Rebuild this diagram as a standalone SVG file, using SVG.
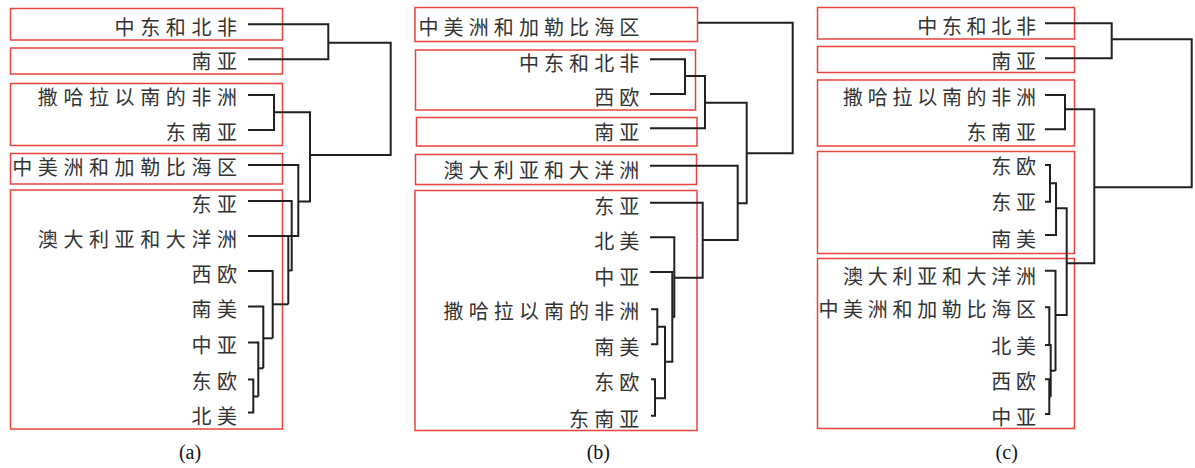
<svg xmlns="http://www.w3.org/2000/svg" width="1195" height="468" viewBox="0 0 1195 468">
<style>
.bg{fill:#ffffff}
.box{fill:none;stroke:#e8433c;stroke-width:1.5}
.lbl{font-family:"Noto Sans CJK SC","Noto Sans CJK JP",sans-serif;font-size:20px;fill:#333333;text-anchor:end}
.pa{letter-spacing:5.6px}
.pb{letter-spacing:5.1px}
.pc{letter-spacing:4.7px}
.cap{font-family:"Liberation Serif","Times New Roman",serif;font-size:20px;fill:#111111;text-anchor:middle}
.con{fill:none;stroke:#231f20;stroke-width:2;stroke-linejoin:miter;stroke-linecap:butt}
</style>
<rect class="bg" x="0" y="0" width="1195" height="468"/>

<!-- Panel (a) -->
<g id="a-n1"><rect class="box" x="10.5" y="8.5" width="272" height="31.5"/><text class="lbl pa" x="242.6" y="34.5">中东和北非</text></g>
<g id="a-n2"><rect class="box" x="10.5" y="48" width="272" height="26"/><text class="lbl pa" x="242.6" y="69.3">南亚</text></g>
<g id="a-n3"><rect class="box" x="10.5" y="83.5" width="272" height="62"/><text class="lbl pa" x="242.6" y="105.3">撒哈拉以南的非洲</text><text class="lbl pa" x="242.6" y="140.4">东南亚</text></g>
<g id="a-n4"><rect class="box" x="10.5" y="153.5" width="272" height="30.5"/><text class="lbl pa" x="242.6" y="175.4">中美洲和加勒比海区</text></g>
<g id="a-n5"><rect class="box" x="10.5" y="190" width="272" height="239"/>
<text class="lbl pa" x="242.6" y="211.5">东亚</text>
<text class="lbl pa" x="242.6" y="247">澳大利亚和大洋洲</text>
<text class="lbl pa" x="242.6" y="281.7">西欧</text>
<text class="lbl pa" x="242.6" y="317">南美</text>
<text class="lbl pa" x="242.6" y="353">中亚</text>
<text class="lbl pa" x="242.6" y="389">东欧</text>
<text class="lbl pa" x="242.6" y="424">北美</text>
</g>
<g id="a-connectors" class="con">
<path d="M248,24.3 H328.3 V59.3 H248"/>
<path d="M328.3,42.7 H390.7 V155 H310"/>
<path d="M248,95 H274 V130 H248"/>
<path d="M274,112.3 H310 V201.5 H298.3"/>
<path d="M248,165 H298.3 V236 H248"/>
<path d="M248,201 H291.7 V271"/>
<path d="M288.3,236 V304.3"/>
<path d="M288.3,270.5 H291.7"/>
<path d="M248,271 H272.7 V338.3"/>
<path d="M272.7,304.3 H288.3"/>
<path d="M248,306.5 H263.3 V368.3"/>
<path d="M263.3,338.3 H272.7"/>
<path d="M248,342.5 H258.3 V396.5"/>
<path d="M258.3,368.3 H263.3"/>
<path d="M248,379.5 H253.3 V412.5 H248"/>
<path d="M253.3,396.5 H258.3"/>
</g>
<text id="cap-a" class="cap" x="190" y="458.5">(a)</text>

<!-- Panel (b) -->
<g id="b-n1"><rect class="box" x="415" y="7.5" width="282.5" height="34"/><text class="lbl pb" x="644.4" y="34.6">中美洲和加勒比海区</text></g>
<g id="b-n2"><rect class="box" x="415.5" y="50" width="280" height="60"/><text class="lbl pb" x="644.4" y="71.4">中东和北非</text><text class="lbl pb" x="644.4" y="104.7">西欧</text></g>
<g id="b-n3"><rect class="box" x="416.5" y="117.5" width="280.5" height="28.5"/><text class="lbl pb" x="644.4" y="140.4">南亚</text></g>
<g id="b-n4"><rect class="box" x="415.5" y="154.5" width="281" height="30"/><text class="lbl pb" x="644.4" y="178">澳大利亚和大洋洲</text></g>
<g id="b-n5"><rect class="box" x="415" y="190.5" width="282" height="240"/>
<text class="lbl pb" x="644.4" y="213.7">东亚</text>
<text class="lbl pb" x="644.4" y="248.7">北美</text>
<text class="lbl pb" x="644.4" y="284.7">中亚</text>
<text class="lbl pb" x="644.4" y="318.7">撒哈拉以南的非洲</text>
<text class="lbl pb" x="644.4" y="355.4">南美</text>
<text class="lbl pb" x="644.4" y="390.4">东欧</text>
<text class="lbl pb" x="644.4" y="427">东南亚</text>
</g>
<g id="b-connectors" class="con">
<path d="M698,22.7 H792.7 V153.3 H746.7"/>
<path d="M650,59.3 H685 V94 H650"/>
<path d="M685,76 H705 V128.3 H650"/>
<path d="M705,102.7 H746.7 V203.3 H737.7"/>
<path d="M650,165.7 H737.7 V240 H702.7"/>
<path d="M650,202.7 H702.7 V277.7 H674.3"/>
<path d="M650,237.3 H674.3 V316.7 H672.3"/>
<path d="M650,272 H672.3 V361.7 H665"/>
<path d="M651,309.3 H657.3 V344.3 H651"/>
<path d="M657.3,326.7 H665 V398.3 H655"/>
<path d="M651,379.3 H655 V415.7 H651"/>
</g>
<text id="cap-b" class="cap" x="598.3" y="458.5">(b)</text>

<!-- Panel (c) -->
<g id="c-n1"><rect class="box" x="817.5" y="7.5" width="257" height="31.5"/><text class="lbl pc" x="1040.7" y="33.8">中东和北非</text></g>
<g id="c-n2"><rect class="box" x="817.5" y="46.5" width="257" height="26"/><text class="lbl pc" x="1040.7" y="68.8">南亚</text></g>
<g id="c-n3"><rect class="box" x="817.5" y="80" width="257" height="66"/><text class="lbl pc" x="1040.7" y="105.3">撒哈拉以南的非洲</text><text class="lbl pc" x="1040.7" y="140.4">东南亚</text></g>
<g id="c-n4"><rect class="box" x="817.5" y="151.5" width="257" height="102"/>
<text class="lbl pc" x="1040.7" y="173.8">东欧</text>
<text class="lbl pc" x="1040.7" y="210.4">东亚</text>
<text class="lbl pc" x="1040.7" y="247">南美</text>
</g>
<g id="c-n5"><rect class="box" x="817.5" y="258.5" width="257" height="170"/>
<text class="lbl pc" x="1040.7" y="283.7">澳大利亚和大洋洲</text>
<text class="lbl pc" x="1040.7" y="317">中美洲和加勒比海区</text>
<text class="lbl pc" x="1040.7" y="353.7">北美</text>
<text class="lbl pc" x="1040.7" y="389.4">西欧</text>
<text class="lbl pc" x="1040.7" y="424.7">中亚</text>
</g>
<g id="c-connectors" class="con">
<path d="M1045,23.3 H1111.7 V58.3 H1045"/>
<path d="M1111.7,39.3 H1191.7 V187.3 H1094.3"/>
<path d="M1045,95 H1065 V129.3 H1045"/>
<path d="M1065,109.3 H1094.3 V263.3 H1066.7"/>
<path d="M1045,165 H1050 V201.7 H1045"/>
<path d="M1050,183.3 H1056 V235 H1045"/>
<path d="M1056,208.3 H1066.7 V315 H1056"/>
<path d="M1045,270.7 H1055.5 V370.7"/>
<path d="M1045,307.3 H1049.3 V345"/>
<path d="M1045,345 H1050.7 V396.7"/>
<path d="M1050.7,370.7 H1055.5"/>
<path d="M1045,379.3 H1049.3 V414 H1045"/>
<path d="M1049.3,396.7 H1050.7"/>
</g>
<text id="cap-c" class="cap" x="1006.7" y="458.5">(c)</text>
</svg>
